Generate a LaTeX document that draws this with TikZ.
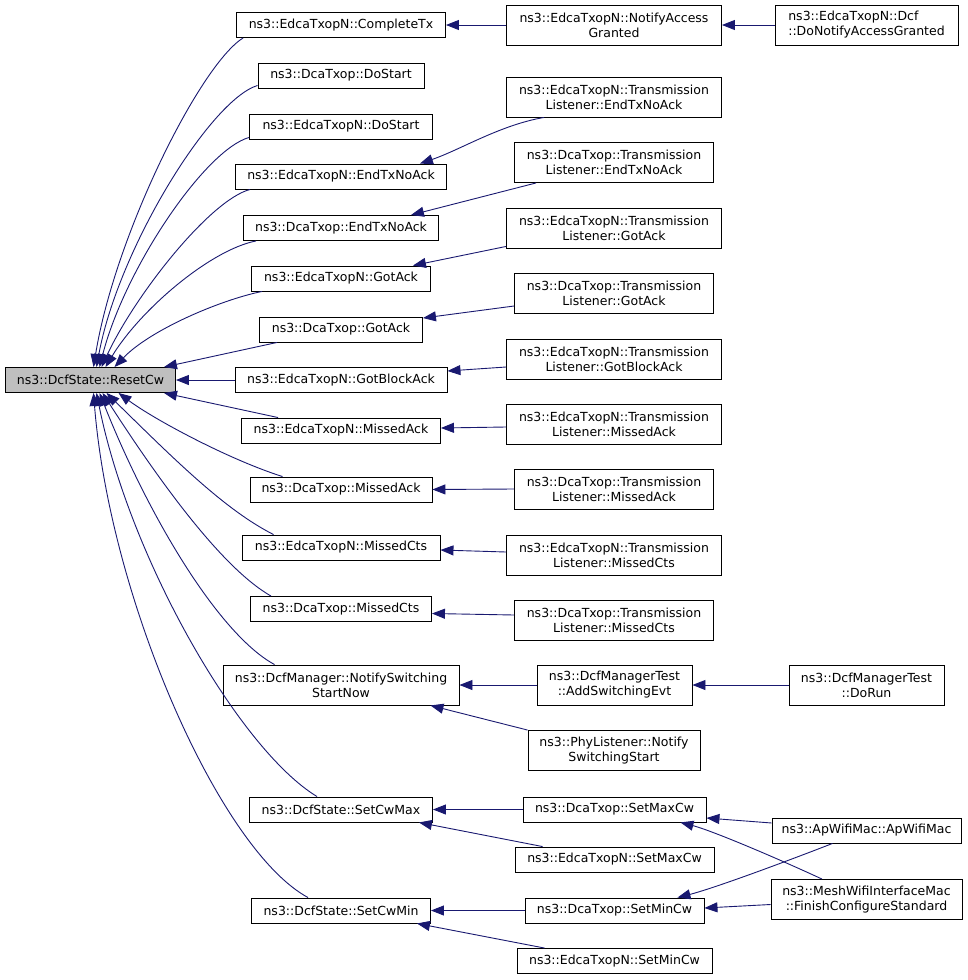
\documentclass[tikz,border=0pt]{standalone}
\usepackage{fontspec}
\setmainfont{DejaVu Sans}
\usetikzlibrary{arrows.meta}
\definecolor{edgecol}{RGB}{25,25,112}
\definecolor{rootfill}{RGB}{191,191,191}
\begin{document}
\begin{tikzpicture}[x=1pt,y=-1pt,
  box/.style={draw=black, line width=0.9pt, fill=white, inner sep=0pt,
    minimum height=25pt, align=center, font=\fontsize{12.5}{15}\selectfont},
  tall/.style={minimum height=40pt},
  conn/.style={draw=edgecol, line width=0.9pt,
    {Triangle[length=13pt,width=10pt]}-}]
\useasboundingbox (0,0) rectangle (968,980);
% root
\node[box, fill=rootfill, minimum width=170] (root) at (90.5,380) {ns3::DcfState::ResetCw};
% column 1
\node[box, minimum width=209] (ctx)   at (341,25)    {ns3::EdcaTxopN::CompleteTx};
\node[box, minimum width=166] (dds)   at (341,75.5)  {ns3::DcaTxop::DoStart};
\node[box, minimum width=183] (eds)   at (341,126.5) {ns3::EdcaTxopN::DoStart};
\node[box, minimum width=211] (eetx)  at (341,176.5) {ns3::EdcaTxopN::EndTxNoAck};
\node[box, minimum width=195] (detx)  at (341,228)   {ns3::DcaTxop::EndTxNoAck};
\node[box, minimum width=179] (egot)  at (341,278.5) {ns3::EdcaTxopN::GotAck};
\node[box, minimum width=163] (dgot)  at (341,329.5) {ns3::DcaTxop::GotAck};
\node[box, minimum width=212] (egba)  at (341,380)   {ns3::EdcaTxopN::GotBlockAck};
\node[box, minimum width=199] (emack) at (341,430.5) {ns3::EdcaTxopN::MissedAck};
\node[box, minimum width=182] (dmack) at (341,489.5) {ns3::DcaTxop::MissedAck};
\node[box, minimum width=198] (emcts) at (341,547.5) {ns3::EdcaTxopN::MissedCts};
\node[box, minimum width=181] (dmcts) at (341,609)   {ns3::DcaTxop::MissedCts};
\node[box, tall, minimum width=236] (nssn) at (341,685) {ns3::DcfManager::NotifySwitching\\StartNow};
\node[box, minimum width=183] (scmax) at (341,809.5) {ns3::DcfState::SetCwMax};
\node[box, minimum width=179] (scmin) at (341,910.5) {ns3::DcfState::SetCwMin};
% column 2
\node[box, tall, minimum width=215] (nag)    at (614,25)  {ns3::EdcaTxopN::NotifyAccess\\Granted};
\node[box, tall, minimum width=215] (tleetx) at (614,97)  {ns3::EdcaTxopN::Transmission\\Listener::EndTxNoAck};
\node[box, tall, minimum width=199] (tldetx) at (614,162.5) {ns3::DcaTxop::Transmission\\Listener::EndTxNoAck};
\node[box, tall, minimum width=215] (tlegot) at (614,228) {ns3::EdcaTxopN::Transmission\\Listener::GotAck};
\node[box, tall, minimum width=199] (tldgot) at (614,293) {ns3::DcaTxop::Transmission\\Listener::GotAck};
\node[box, tall, minimum width=215] (tlegba) at (614,359) {ns3::EdcaTxopN::Transmission\\Listener::GotBlockAck};
\node[box, tall, minimum width=215] (tlemack) at (614,424) {ns3::EdcaTxopN::Transmission\\Listener::MissedAck};
\node[box, tall, minimum width=199] (tldmack) at (614,489) {ns3::DcaTxop::Transmission\\Listener::MissedAck};
\node[box, tall, minimum width=215] (tlemcts) at (614,555) {ns3::EdcaTxopN::Transmission\\Listener::MissedCts};
\node[box, tall, minimum width=199] (tldmcts) at (614,620) {ns3::DcaTxop::Transmission\\Listener::MissedCts};
\node[box, tall, minimum width=155] (ase) at (614.5,685) {ns3::DcfManagerTest\\::AddSwitchingEvt};
\node[box, tall, minimum width=172] (phy) at (614,750.5) {ns3::PhyListener::Notify\\SwitchingStart};
\node[box, minimum width=183] (dsmax) at (614.5,809.5) {ns3::DcaTxop::SetMaxCw};
\node[box, minimum width=199] (esmax) at (614.5,859.5) {ns3::EdcaTxopN::SetMaxCw};
\node[box, minimum width=179] (dsmin) at (614.5,910.5) {ns3::DcaTxop::SetMinCw};
\node[box, minimum width=195] (esmin) at (614.5,961)   {ns3::EdcaTxopN::SetMinCw};
% column 3
\node[box, tall, minimum width=183, align=left] (dnag) at (866.5,25) {ns3::EdcaTxopN::Dcf\\::DoNotifyAccessGranted};
\node[box, tall, minimum width=155] (dorun) at (866.5,685) {ns3::DcfManagerTest\\::DoRun};
\node[box, minimum width=189] (apw)  at (866.5,830.5) {ns3::ApWifiMac::ApWifiMac};
\node[box, tall, minimum width=191] (mesh) at (866.5,899.5) {ns3::MeshWifiInterfaceMac\\::FinishConfigureStandard};
% edges into root (top)
\draw[conn] ([xshift=3pt]root.north) .. controls (115,235) and (200,65) .. ([xshift=7pt]ctx.south west);
\draw[conn] ([xshift=6pt]root.north) .. controls (118,250) and (210,100) .. ([yshift=3pt]dds.south west);
\draw[conn] ([xshift=9pt]root.north) .. controls (125,268) and (205,150) .. ([yshift=2pt]eds.south west);
\draw[conn] ([xshift=11pt]root.north) .. controls (135,295) and (210,200) .. ([xshift=15pt]eetx.south west);
\draw[conn] ([xshift=15pt]root.north) .. controls (140,310) and (210,250) .. ([xshift=13pt]detx.south west);
\draw[conn] ([xshift=24pt]root.north) .. controls (150,330) and (220,300) .. ([xshift=11pt]egot.south west);
\draw[conn] ([xshift=-12pt]root.north east) -- ([xshift=18pt]dgot.south west);
\draw[conn] (root.east) -- (egba.west);
% edges into root (bottom)
\draw[conn] ([xshift=-12pt]root.south east) -- ([xshift=37pt]emack.north west);
\draw[conn] ([xshift=28pt]root.south) .. controls (155,420) and (230,460) .. ([xshift=33pt]dmack.north west);
\draw[conn] ([xshift=16pt]root.south) .. controls (175,460) and (225,510) .. ([xshift=32pt]emcts.north west);
\draw[conn] ([xshift=12pt]root.south) .. controls (165,490) and (225,570) .. ([xshift=21pt]dmcts.north west);
\draw[conn] ([xshift=9pt]root.south) .. controls (150,520) and (220,635) .. ([xshift=52pt]nssn.north west);
\draw[conn] ([xshift=6pt]root.south) .. controls (130,560) and (240,750) .. ([xshift=68pt]scmax.north west);
\draw[conn] ([xshift=3pt]root.south) .. controls (110,600) and (220,850) .. ([xshift=57pt]scmin.north west);
% column 2 -> column 1
\draw[conn] (ctx.east) -- (nag.west);
\draw[conn] (nag.east) -- (dnag.west);
\draw[conn] ([xshift=-27pt]eetx.north east) .. controls (460,150) and (500,125) .. ([xshift=38pt]tleetx.south west);
\draw[conn] ([xshift=-28pt]detx.north east) -- ([xshift=22pt]tldetx.south west);
\draw[conn] ([xshift=-18pt]egot.north east) -- ([yshift=2pt]tlegot.south west);
\draw[conn] ([yshift=-1.5pt]dgot.north east) -- ([yshift=-13pt]tldgot.west);
\draw[conn] ([yshift=9pt]egba.east) -- ([yshift=-8pt]tlegba.west);
\draw[conn] ([yshift=2.5pt]emack.east) -- ([yshift=-3pt]tlemack.west);
\draw[conn] (dmack.east) -- (tldmack.west);
\draw[conn] ([yshift=-2.5pt]emcts.east) -- ([yshift=3pt]tlemcts.west);
\draw[conn] ([yshift=-4.5pt]dmcts.east) -- ([yshift=5pt]tldmcts.west);
\draw[conn] (nssn.east) -- (ase.west);
\draw[conn] (ase.east) -- (dorun.west);
\draw[conn] ([xshift=-29pt]nssn.south east) -- (phy.north west);
\draw[conn] (scmax.east) -- (dsmax.west);
\draw[conn] ([xshift=-14pt]scmax.south east) -- ([xshift=28pt]esmax.north west);
\draw[conn] (scmin.east) -- (dsmin.west);
\draw[conn] ([xshift=-14pt]scmin.south east) -- ([xshift=28pt]esmin.north west);
% column 3 -> column 2
\draw[conn] ([yshift=-8.5pt]dsmax.east) -- ([yshift=7.5pt]apw.west);
\draw[conn] ([yshift=2.5pt]dsmin.east) -- ([yshift=-5pt]mesh.west);
\draw[conn] ([xshift=-27pt]dsmin.north east) .. controls (715,888) and (790,860) .. ([xshift=-34pt]apw.south);
\draw[conn] ([xshift=-26pt]dsmax.south east) .. controls (710,830) and (770,855) .. ([xshift=-44.5pt]mesh.north);
\end{tikzpicture}
\end{document}
